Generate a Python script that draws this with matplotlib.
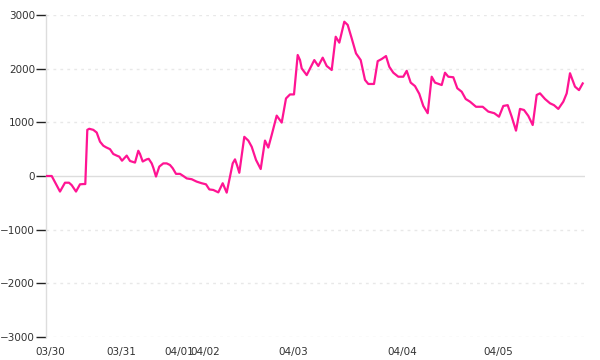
import matplotlib
matplotlib.use("Agg")
import matplotlib.pyplot as plt

# sample position along the x axis (points are not evenly spaced in time)
t = [0, 4.7, 13, 18, 22, 24.7, 29, 33, 36.3, 38.3, 40.3, 42.3, 46.3, 49.7, 53, 56.3,
     59, 63, 66.3, 69.7, 72.3, 75, 79.7, 83, 88, 91.3, 93, 95.7, 99.7, 101.7, 104.7,
     106.3, 109, 112.3, 116.3, 119.7, 123, 125.7, 129, 133, 136.3, 139.7, 144.7, 149.7,
     154.7, 159, 162.3, 166.3, 171.3, 175.7, 179.7, 183, 185.7, 188, 190.3, 192.3, 197.3,
     201.3, 204.7, 209, 213.7, 218, 221.3, 224.7, 229.7, 234.7, 239, 243, 247, 250.7, 253,
     254.7, 259.7, 267.3, 271.3, 275.7, 279.7, 284.7, 288.7, 292.3, 297.3, 300.7, 304.7,
     309, 313.7, 318, 321.3, 327, 330.7, 334.7, 339, 342.3, 346.3, 351.3, 356.3, 359.7,
     363.7, 368, 372.3, 376.3, 380.7, 384.7, 388, 394.7, 398, 401.3, 406.3, 410.3, 414.7,
     418.7, 423, 429, 435.7, 441.3, 447.3, 452, 456.3, 460.7, 464.7, 469, 473, 477, 481.3,
     485.7, 489.7, 493, 498, 503, 507, 511.3, 516.3, 519.7, 523, 528, 532, 535.7]

values = [0, 0, -290, -125, -125, -170, -290, -155, -150, -150, 860, 880, 860, 810, 640, 565,
          535, 500, 410, 380, 360, 285, 380, 280, 250, 470, 410, 270, 310, 320, 235,
          155, -10, 175, 235, 235, 205, 145, 40, 40, 0, -45, -60, -105,
          -135, -155, -250, -260, -305, -135, -310, -10, 235, 310, 185, 60, 730,
          660, 545, 300, 130, 660, 530, 765, 1125, 995, 1445, 1520, 1520, 2255, 2160,
          2005, 1880, 2160, 2050, 2205, 2050, 1975, 2595, 2485, 2875, 2815, 2565,
          2285, 2160, 1790, 1715, 1715, 2140, 2180, 2235, 2035, 1925, 1850, 1850, 1960,
          1740, 1675, 1530, 1305, 1170, 1850, 1740, 1695, 1925, 1850, 1840,
          1635, 1570, 1435, 1385, 1290, 1290, 1200, 1170, 1105, 1305, 1320, 1105, 845, 1250,
          1230, 1120, 950, 1510, 1540, 1435, 1355, 1320, 1250, 1385, 1540, 1915, 1665, 1600, 1725]

day_pos = [3.3, 74.7, 132.7, 158, 246.3, 355, 451]
day_labels = ['03/30', '03/31', '04/01', '04/02', '04/03', '04/04', '04/05']
y_ticks = [-3000, -2000, -1000, 0, 1000, 2000, 3000]

fig = plt.figure(figsize=(6, 3.6), dpi=100)
ax = fig.add_axes([46/600, 1 - 337/360, (585 - 46)/600, (337 - 15)/360])

for y in y_ticks:
    if y == 0:
        ax.axhline(y, color='#dddddd', lw=1, zorder=1)
    else:
        ax.axhline(y, color='#e8e8e8', lw=1, ls=(0, (2, 3)), zorder=1)

ax.plot(t, values, color='#ff1493', lw=1.6, zorder=3)

ax.set_xlim(-1, 538)
ax.set_ylim(-3000, 3000)
ax.set_yticks(y_ticks)
ax.set_yticklabels([str(y).replace('-', '\u2212') for y in y_ticks])
ax.set_xticks(day_pos)
ax.set_xticklabels(day_labels)

for s in ['top', 'right', 'bottom']:
    ax.spines[s].set_visible(False)
ax.spines['left'].set_color('#dddddd')
ax.spines['left'].set_linewidth(1)

ax.tick_params(axis='y', length=7, width=1, color='#222222', labelsize=7.5,
               labelcolor='#333333', pad=1)
ax.tick_params(axis='x', length=0, labelsize=7.5, labelcolor='#333333', pad=7)

fig.savefig('out.png', dpi=100)
